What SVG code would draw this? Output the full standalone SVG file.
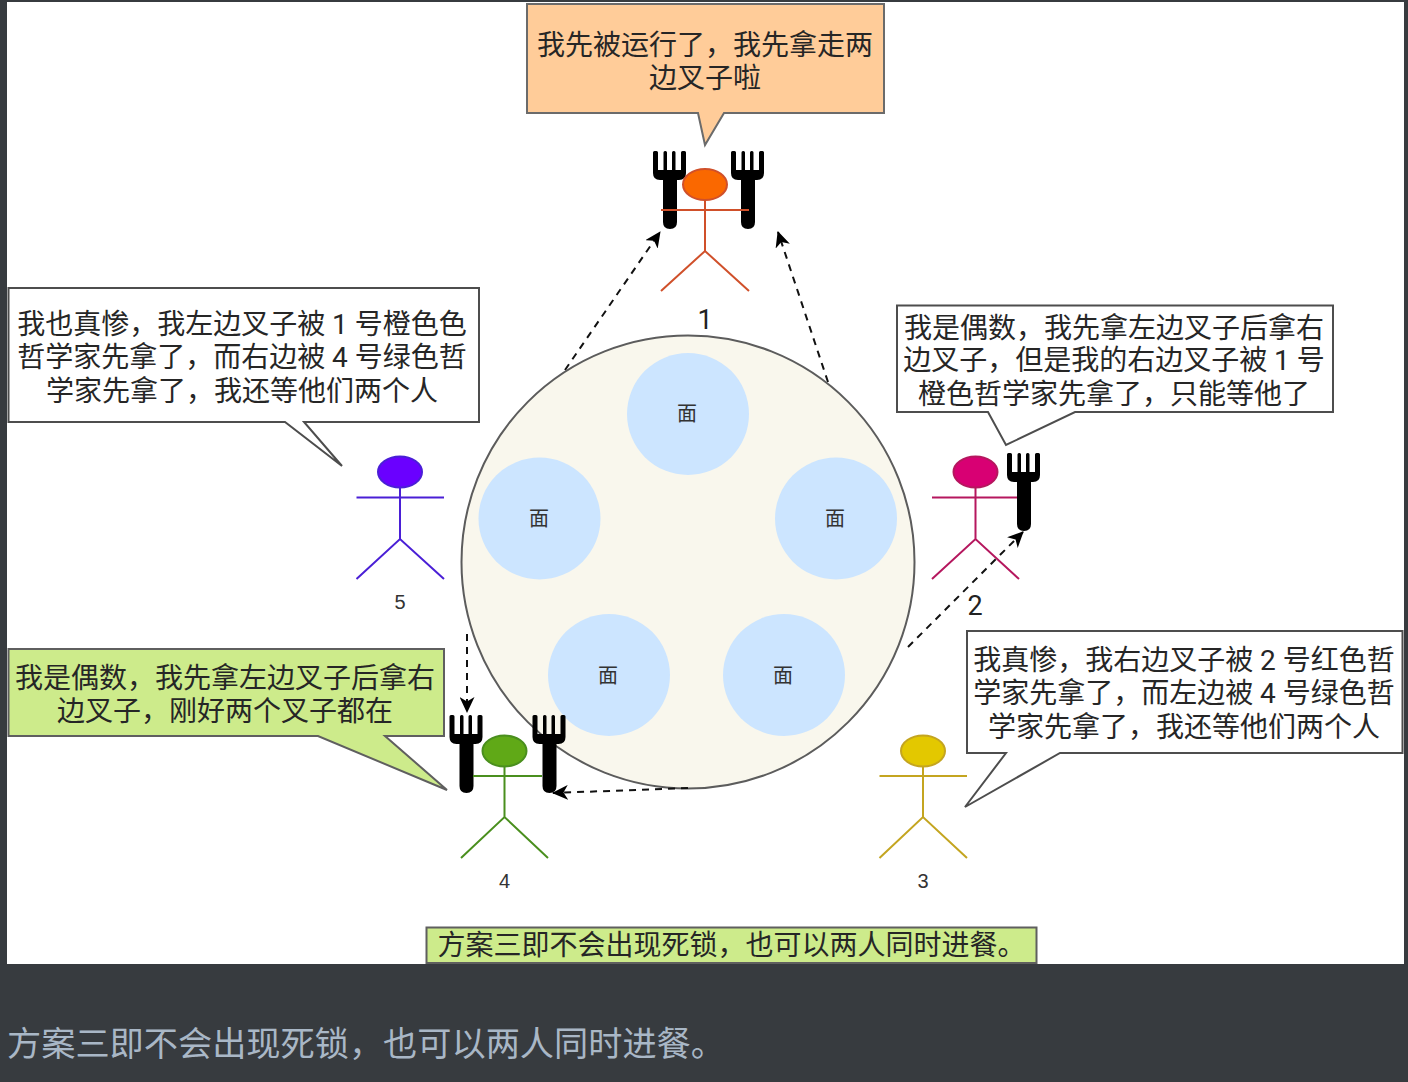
<svg xmlns="http://www.w3.org/2000/svg" xmlns:xlink="http://www.w3.org/1999/xlink" width="1408" height="1082" viewBox="0 0 1408 1082">
<style>
text{font-family:"Roboto","Noto Sans CJK SC",sans-serif;text-anchor:middle;fill:#262626}
.say{font-size:28px}
.plate{fill:#cce5ff}
.plate-t{font-size:20px;fill:#333}
.num{font-size:20px;fill:#333;font-family:"Liberation Sans",sans-serif}
.numb{font-size:27px;fill:#222}
.call{stroke:#4d4d4d;stroke-width:2;fill:#fff;stroke-linejoin:miter}
.stick{fill:none;stroke-width:2}
.conn{fill:none;stroke:#111;stroke-width:2;stroke-dasharray:7 6}
</style>
<defs>
<marker id="arr" viewBox="0 0 16 15" refX="15" refY="7.500" markerWidth="16" markerHeight="15" markerUnits="userSpaceOnUse" orient="auto">
<path d="M0 0L16 7.500L0 15L4.500 7.500Z" fill="#000"/>
</marker>
<g id="fork">
<path d="M0 1.500Q0 0 1.500 0H3.500Q5 0 5 1.500V19H10.500V1.500Q10.500 0 12 0H12.500Q14 0 14 1.500V19H19V1.500Q19 0 20.500 0H21Q22.500 0 22.500 1.500V19H28V1.500Q28 0 29.500 0H31.500Q33 0 33 1.500V22Q33 29 26 29H24V71Q24 78 17 78Q10 78 10 71V29H7Q0 29 0 22Z" fill="#000"/>
</g>
</defs>
<rect width="1408" height="1082" fill="#373b3f"/>
<rect x="7" y="2" width="1397" height="962" fill="#fff"/>
<g id="table">
<circle cx="688" cy="562" r="226.500" fill="#f9f7ed" stroke="#5c5c5c" stroke-width="2"/>
</g>
<g id="plate-top"><circle class="plate" cx="688" cy="414" r="61"/><text class="plate-t" x="687" y="421">面</text></g>
<g id="plate-left"><circle class="plate" cx="539.500" cy="518.500" r="61"/><text class="plate-t" x="539" y="526">面</text></g>
<g id="plate-right"><circle class="plate" cx="836" cy="518.500" r="61"/><text class="plate-t" x="835" y="526">面</text></g>
<g id="plate-bl"><circle class="plate" cx="609" cy="675" r="61"/><text class="plate-t" x="608" y="683">面</text></g>
<g id="plate-br"><circle class="plate" cx="784" cy="675" r="61"/><text class="plate-t" x="783" y="683">面</text></g>
<g id="phil-1">
<use xlink:href="#fork" href="#fork" x="653" y="151"/>
<use xlink:href="#fork" href="#fork" x="731" y="151"/>
<g class="stick" stroke="#d0502a"><ellipse cx="705" cy="184.500" rx="22" ry="15.500" fill="#fa6800"/><path d="M705 200V251M661 210H749M661 291L705 251L749 291"/></g>
<text class="numb" x="705" y="329">1</text>
</g>
<g id="phil-2">
<use xlink:href="#fork" href="#fork" x="1007" y="453"/>
<g class="stick" stroke="#b5175e"><ellipse cx="975.500" cy="472" rx="22" ry="15.500" fill="#d80073"/><path d="M975.500 488V539M932 497.500H1017M932 579L975.500 539L1019 579"/></g>
<text class="numb" x="975" y="615">2</text>
</g>
<g id="phil-3">
<g class="stick" stroke="#c4a520"><ellipse cx="923" cy="751" rx="22" ry="15.500" fill="#e3c800"/><path d="M923 767V817M879.500 776H967M879.500 858L923 817L967 858"/></g>
<text class="num" x="923" y="888">3</text>
</g>
<g id="phil-4">
<use xlink:href="#fork" href="#fork" x="449.500" y="715"/>
<use xlink:href="#fork" href="#fork" x="532.500" y="715"/>
<g class="stick" stroke="#4a8f1e"><ellipse cx="504.500" cy="751" rx="22" ry="15.500" fill="#60a917"/><path d="M504.500 767V817M473 776H542M461 858L504.500 817L548 858"/></g>
<text class="num" x="504.500" y="888">4</text>
</g>
<g id="phil-5">
<g class="stick" stroke="#4a1fd6"><ellipse cx="400" cy="472" rx="22" ry="15.500" fill="#6a00ff"/><path d="M400 488V539M356.500 497.500H444M356.500 579L400 539L444 579"/></g>
<text class="num" x="400" y="609">5</text>
</g>
<g id="connectors">
<path class="conn" marker-end="url(#arr)" d="M565 370L660 232"/>
<path class="conn" marker-end="url(#arr)" d="M828 382L778 232"/>
<path class="conn" marker-end="url(#arr)" d="M908 647L1023 532"/>
<path class="conn" marker-end="url(#arr)" d="M467 634V712"/>
<path class="conn" marker-end="url(#arr)" d="M688 788L553 793"/>
</g>
<g id="callout-1">
<path class="call" style="fill:#ffcc99;stroke:#6b6b6b" d="M527 4H884V113H724L705 145L698 113H527Z"/>
<text class="say" x="705" y="55">我先被运行了，我先拿走两</text>
<text class="say" x="705" y="88">边叉子啦</text>
</g>
<g id="callout-5">
<path class="call" d="M8.500 288H479V422H304L342 466L285 422H8.500Z"/>
<text class="say" x="242" y="334">我也真惨，我左边叉子被 1 号橙色色</text>
<text class="say" x="242" y="367">哲学家先拿了，而右边被 4 号绿色哲</text>
<text class="say" x="242" y="401">学家先拿了，我还等他们两个人</text>
</g>
<g id="callout-2">
<path class="call" d="M897 305.500H1333V412H1075L1006 445L988 412H897Z"/>
<text class="say" x="1114" y="338">我是偶数，我先拿左边叉子后拿右</text>
<text class="say" x="1114" y="370">边叉子，但是我的右边叉子被 1 号</text>
<text class="say" x="1114" y="404">橙色哲学家先拿了，只能等他了</text>
</g>
<g id="callout-3">
<path class="call" d="M967 631H1402.500V753H1060L965 807L1006 753H967Z"/>
<text class="say" x="1184" y="670">我真惨，我右边叉子被 2 号红色哲</text>
<text class="say" x="1184" y="703">学家先拿了，而左边被 4 号绿色哲</text>
<text class="say" x="1184" y="737">学家先拿了，我还等他们两个人</text>
</g>
<g id="callout-4">
<path class="call" style="fill:#cdeb8b;stroke:#5f5f5f" d="M8.500 649H444V736H385L447 790L318 736H8.500Z"/>
<text class="say" x="225" y="688">我是偶数，我先拿左边叉子后拿右</text>
<text class="say" x="225" y="721">边叉子，刚好两个叉子都在</text>
</g>
<g id="summary">
<rect x="426.500" y="927.500" width="610" height="35.500" fill="#cdeb8b" stroke="#5f5f5f" stroke-width="2"/>
<text class="say" x="731.500" y="955">方案三即不会出现死锁，也可以两人同时进餐。</text>
</g>
<text x="7" y="1056" style="text-anchor:start;font-size:34.200px;fill:#a9b7c6">方案三即不会出现死锁，也可以两人同时进餐。</text>
</svg>
